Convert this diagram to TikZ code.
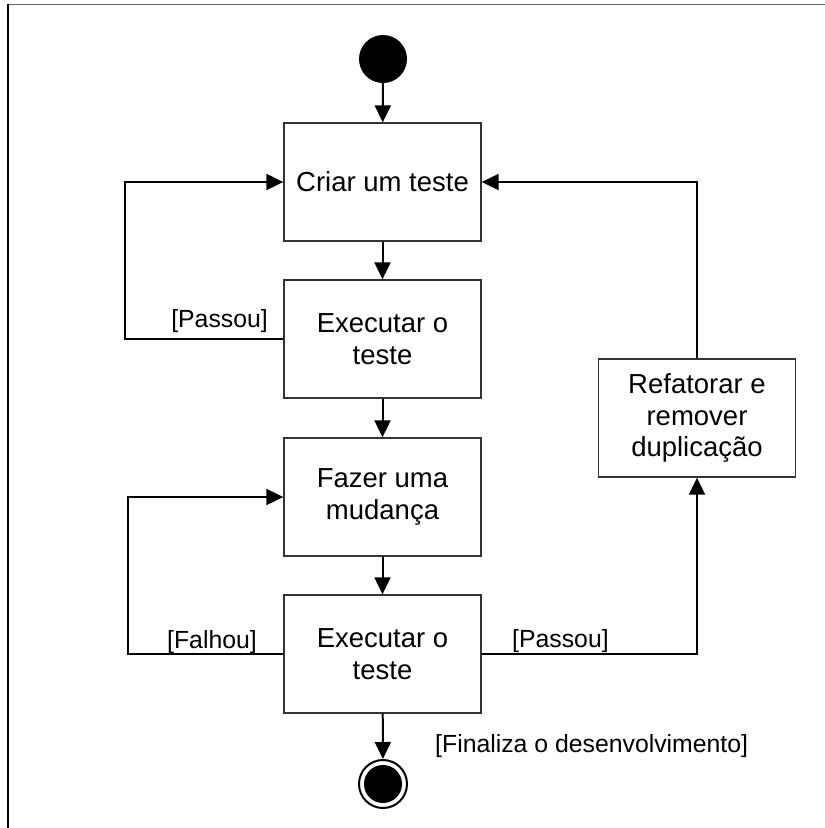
\documentclass[tikz,border=0pt]{standalone}
\usepackage{fontspec}
\setmainfont{Liberation Sans}
\usetikzlibrary{arrows.meta}

\tikzset{
  activity/.style={draw=black!80, line width=1.3pt, minimum width=197pt,
    minimum height=118pt, align=center, inner sep=0pt,
    font=\fontsize{27.5}{31.6}\selectfont},
  guard/.style={inner sep=0pt, font=\fontsize{24.8}{29}\selectfont},
  flow/.style={line width=2pt, -{Triangle[length=17pt,width=16pt]}},
}

\begin{document}
\begin{tikzpicture}[x=1pt, y=-1pt]
  \useasboundingbox (0,0) rectangle (825,828);

  % frame edges
  \draw[black!60, line width=1pt] (8,4.5) -- (825,4.5);
  \draw[black, line width=1.5pt] (8,4) -- (8,828);

  % initial and final states
  \node[circle, fill=black, minimum size=48pt, inner sep=0pt] (start) at (383,59) {};
  \node[circle, draw=black, line width=2pt, fill=white, minimum size=48pt, inner sep=0pt] (finish) at (383,784) {};
  \fill[black] (finish.center) circle (19pt);

  % activities
  \node[activity] (criar) at (382.5,182) {Criar um teste};
  \node[activity] (exec1) at (382.5,339) {Executar o\\teste};
  \node[activity] (fazer) at (382.5,497) {Fazer uma\\mudança};
  \node[activity] (exec2) at (382.5,654) {Executar o\\teste};
  \node[activity] (refat) at (697,418) {Refatorar e\\remover\\duplicação};

  % main sequence
  \draw[flow] (start) -- (criar);
  \draw[flow] (criar) -- (exec1);
  \draw[flow] (exec1) -- (fazer);
  \draw[flow] (fazer) -- (exec2);
  \draw[flow] (exec2) -- (finish);

  % loops
  \draw[flow] (exec1.west) -- ++(-158,0) |- (criar.west);
  \draw[flow] (exec2.west) -- ++(-155,0) |- (fazer.west);
  \draw[flow] (exec2.east) -| (refat.south);
  \draw[flow] (refat.north) |- (criar.east);

  % guards
  \node[guard, anchor=base east] (g1) at (268,327) {[Passou]};
  \node[guard, anchor=base east] (g2) at (257,648) {[Falhou]};
  \node[guard, anchor=base west] (g3) at (512,647) {[Passou]};
  \node[guard, anchor=base west] (g4) at (435,752) {[Finaliza o desenvolvimento]};
\end{tikzpicture}
\end{document}
